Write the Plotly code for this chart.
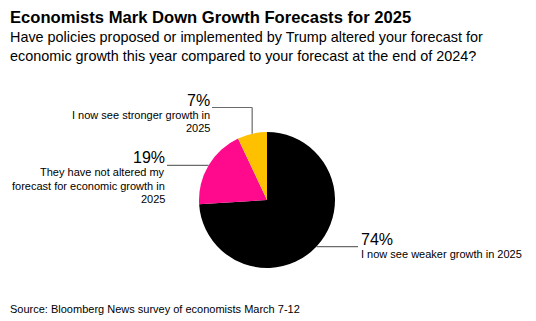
import math
import plotly.graph_objects as go

labels = ["I now see weaker growth in 2025",
          "They have not altered my<br>forecast for economic growth in<br>2025",
          "I now see stronger growth in<br>2025"]
values = [74, 19, 7]
colors = ["#000000", "#FF0A8C", "#FFC000"]
pct_text = ["74%", "19%", "7%"]

W, H = 536, 321
CX, CY, R = 267, 200, 68
FONT = "Liberation Sans, Arial, Helvetica, sans-serif"

def px(x):
    return x / W

def py(y):
    return 1 - y / H

fig = go.Figure()
fig.add_trace(go.Pie(
    values=values, labels=labels, sort=False, direction="clockwise", rotation=0,
    marker=dict(colors=colors, line=dict(width=0)),
    textinfo="none", hoverinfo="label+percent", showlegend=False,
    domain=dict(x=[px(CX - R), px(CX + R)], y=[py(CY + R), py(CY - R)]),
))

# slice mid-point positions on the rim
total = sum(values)
cum = 0
mids = []
for v in values:
    a = (cum + v / 2) / total * 2 * math.pi
    mids.append((CX + R * math.sin(a), CY - R * math.cos(a)))
    cum += v

shapes = []
annotations = []
LC = "#6b6b6b"
LH = 13.3

def add_label(i, x, line_y, anchor):
    annotations.append(dict(x=px(x), y=py(line_y - 7.5), xanchor=anchor, yanchor="middle",
                            text=pct_text[i], showarrow=False,
                            font=dict(size=16, color="#000", family=FONT)))
    for k, part in enumerate(labels[i].split("<br>")):
        annotations.append(dict(x=px(x), y=py(line_y + 7 + k * LH), xanchor=anchor, yanchor="middle",
                                text=part, showarrow=False,
                                font=dict(size=11, color="#000", family=FONT)))

# 74% (right)
mx, my = mids[0]
shapes.append(dict(type="line", xref="paper", yref="paper", x0=px(mx), y0=py(my),
                   x1=px(358), y1=py(my), line=dict(color=LC, width=1.2)))
add_label(0, 359, my, "left")

# 19% (left)
mx, my = mids[1]
shapes.append(dict(type="line", xref="paper", yref="paper", x0=px(mx), y0=py(my),
                   x1=px(167), y1=py(my), line=dict(color=LC, width=1.2)))
add_label(1, 167, my, "right")

# 7% (top)
mx, my = mids[2]
ly = 107.5
shapes.append(dict(type="line", xref="paper", yref="paper", x0=px(mx), y0=py(my),
                   x1=px(mx), y1=py(ly), line=dict(color=LC, width=1.2)))
shapes.append(dict(type="line", xref="paper", yref="paper", x0=px(mx), y0=py(ly),
                   x1=px(212), y1=py(ly), line=dict(color=LC, width=1.2)))
add_label(2, 212, ly, "right")

# Title, subtitle, source
annotations.append(dict(x=px(8), y=py(6), xanchor="left", yanchor="top", showarrow=False,
                        text="<b>Economists Mark Down Growth Forecasts for 2025</b>",
                        font=dict(size=16.6, color="#000", family=FONT)))
annotations.append(dict(x=px(8), y=py(27), xanchor="left", yanchor="top", showarrow=False, align="left",
                        text="Have policies proposed or implemented by Trump altered your forecast for<br>"
                             "economic growth this year compared to your forecast at the end of 2024?",
                        font=dict(size=14.4, color="#000", family=FONT)))
annotations.append(dict(x=px(8), y=py(301), xanchor="left", yanchor="top", showarrow=False,
                        text="Source: Bloomberg News survey of economists March 7-12",
                        font=dict(size=11, color="#000", family=FONT)))

fig.update_layout(
    width=W, height=H, margin=dict(l=0, r=0, t=0, b=0),
    paper_bgcolor="white", plot_bgcolor="white",
    shapes=shapes, annotations=annotations,
)
fig.write_html("out.html")
